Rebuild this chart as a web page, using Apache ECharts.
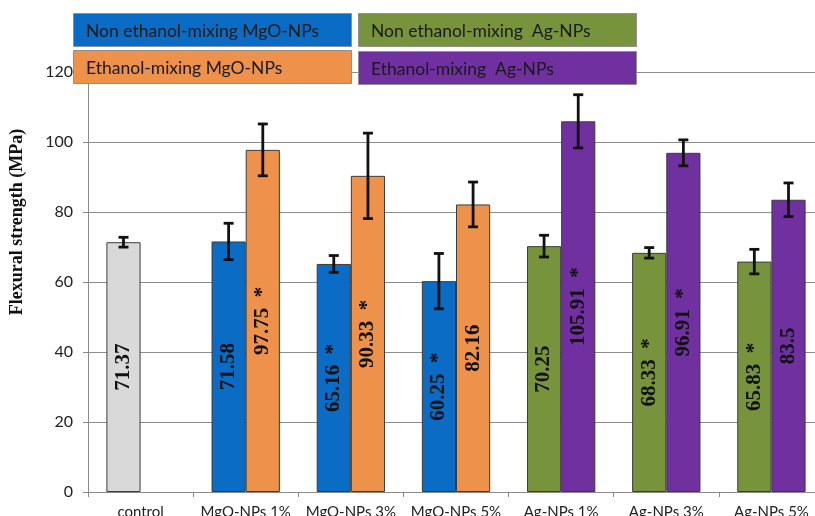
<!DOCTYPE html>
<html>
<head>
<meta charset="utf-8">
<script src="https://cdn.jsdelivr.net/npm/echarts@6/dist/echarts.min.js"></script>
<style>html,body{margin:0;padding:0;background:#fff;}#chart{width:815px;height:516px;}</style>
</head>
<body>
<div id="chart"></div>
<script>
const categories = ['control', 'MgO-NPs 1%', 'MgO-NPs 3%', 'MgO-NPs 5%', 'Ag-NPs 1%', 'Ag-NPs 3%', 'Ag-NPs 5%'];
const yTicks = [0, 20, 40, 60, 80, 100, 120];

const controlValues  = [71.37, null, null, null, null, null, null];
const nonEthMgO      = [null, 71.58, 65.16, 60.25, null, null, null];
const ethMgO         = [null, 97.75, 90.33, 82.16, null, null, null];
const nonEthAg       = [null, null, null, null, 70.25, 68.33, 65.83];
const ethAg          = [null, null, null, null, 105.91, 96.91, 83.5];

const controlErr  = [1.4, null, null, null, null, null, null];
const nonEthMgOErr = [null, 5.2, 2.4, 7.9, null, null, null];
const ethMgOErr    = [null, 7.4, 12.2, 6.4, null, null, null];
const nonEthAgErr  = [null, null, null, null, 3.1, 1.5, 3.5];
const ethAgErr     = [null, null, null, null, 7.6, 3.7, 4.8];

const controlSig   = [false, false, false, false, false, false, false];
const nonEthMgOSig = [false, false, true, true, false, false, false];
const ethMgOSig    = [false, true, true, false, false, false, false];
const nonEthAgSig  = [false, false, false, false, false, true, true];
const ethAgSig     = [false, false, false, false, true, true, false];

const seriesNames = ['control', 'Non ethanol-mixing MgO-NPs', 'Ethanol-mixing MgO-NPs', 'Non ethanol-mixing  Ag-NPs', 'Ethanol-mixing  Ag-NPs'];
const seriesColors = ['#d9d9d9', '#0a6cc4', '#ed914b', '#77933c', '#7030a0'];

const groups = [
  { name: seriesNames[0], values: controlValues, err: controlErr, sig: controlSig, color: seriesColors[0], slot: 0 },
  { name: seriesNames[1], values: nonEthMgO, err: nonEthMgOErr, sig: nonEthMgOSig, color: seriesColors[1], slot: 0 },
  { name: seriesNames[2], values: ethMgO, err: ethMgOErr, sig: ethMgOSig, color: seriesColors[2], slot: 1 },
  { name: seriesNames[3], values: nonEthAg, err: nonEthAgErr, sig: nonEthAgSig, color: seriesColors[3], slot: 0 },
  { name: seriesNames[4], values: ethAg, err: ethAgErr, sig: ethAgSig, color: seriesColors[4], slot: 1 }
];

const CAT_GAP = 0.35;

const barSeries = groups.map(g => ({
  name: g.name,
  type: 'bar',
  stack: g.slot === 0 ? 'a' : 'b',
  data: g.values,
  barGap: '0%',
  barCategoryGap: (CAT_GAP * 100) + '%',
  itemStyle: { color: g.color, borderColor: '#3c3c3c', borderWidth: 1 },
  label: {
    show: true,
    position: 'inside',
    rotate: 90,
    color: '#111',
    fontFamily: 'Liberation Serif',
    fontWeight: 'bold',
    fontSize: 21,
    formatter: p => String(p.value) + (g.sig[p.dataIndex] ? '  *' : '')
  },
  z: 2
}));

const errData = [];
groups.forEach(g => {
  g.values.forEach((v, i) => {
    if (v != null && g.err[i] != null) errData.push([i, v - g.err[i], v + g.err[i], g.slot]);
  });
});

const errSeries = {
  type: 'custom',
  name: 'error',
  data: errData,
  encode: { x: 0, y: [1, 2] },
  z: 5,
  renderItem: function (params, api) {
    const idx = api.value(0);
    const lo = api.coord([idx, api.value(1)]);
    const hi = api.coord([idx, api.value(2)]);
    const band = api.size([1, 0])[0];
    const barW = band * (1 - CAT_GAP) / 2;
    const x = lo[0] + (api.value(3) === 0 ? -barW / 2 : barW / 2);
    const cap = 5;
    const st = { stroke: '#111', lineWidth: 2.8 };
    return {
      type: 'group',
      children: [
        { type: 'line', shape: { x1: x, y1: lo[1], x2: x, y2: hi[1] }, style: st },
        { type: 'line', shape: { x1: x - cap, y1: lo[1], x2: x + cap, y2: lo[1] }, style: st },
        { type: 'line', shape: { x1: x - cap, y1: hi[1], x2: x + cap, y2: hi[1] }, style: st }
      ]
    };
  }
};

const legendBoxes = [
  { g: groups[1], x: 73, y: 13 },
  { g: groups[2], x: 73, y: 50 },
  { g: groups[3], x: 358, y: 13 },
  { g: groups[4], x: 358, y: 51 }
];
const graphics = [];
legendBoxes.forEach(b => {
  graphics.push({
    type: 'rect', left: b.x, top: b.y, z: 100,
    shape: { width: 278, height: 33 },
    style: { fill: b.g.color, stroke: '#8f8f8f', lineWidth: 1 }
  });
  graphics.push({
    type: 'text', x: b.x + 13, y: b.y + 18, z: 101,
    style: { text: b.g.name, fill: '#1a1a1a', font: '17.5px Lato', textAlign: 'left', textVerticalAlign: 'middle' }
  });
});

const chart = echarts.init(document.getElementById('chart'), null, { renderer: 'canvas' });
chart.setOption({
  animation: false,
  backgroundColor: '#fff',
  grid: { left: 88, top: 72, right: -9, bottom: 24, containLabel: false, outerBoundsMode: 'none' },
  xAxis: {
    type: 'category',
    data: categories,
    axisLine: { lineStyle: { color: '#8a8a8a', width: 1 } },
    axisTick: { show: true, length: 5, lineStyle: { color: '#8a8a8a' } },
    axisLabel: { color: '#222', fontFamily: 'Lato', fontSize: 15, margin: 13, interval: 0 }
  },
  yAxis: {
    type: 'value',
    min: yTicks[0],
    max: yTicks[yTicks.length - 1],
    interval: yTicks[1] - yTicks[0],
    name: 'Flexural strength (MPa)',
    nameLocation: 'middle',
    nameRotate: 90,
    nameGap: 62,
    nameTextStyle: { fontFamily: 'Liberation Serif', fontWeight: 'bold', fontSize: 18, color: '#111', padding: [0, 0, 0, 120] },
    axisLine: { show: true, lineStyle: { color: '#8a8a8a', width: 1 } },
    axisTick: { show: true, length: 5, lineStyle: { color: '#8a8a8a' } },
    axisLabel: { color: '#222', fontFamily: 'Lato', fontSize: 16, margin: 15 },
    splitLine: { lineStyle: { color: '#8c8c8c', width: 1 } }
  },
  series: barSeries.concat([errSeries]),
  graphic: graphics
});
</script>
</body>
</html>
